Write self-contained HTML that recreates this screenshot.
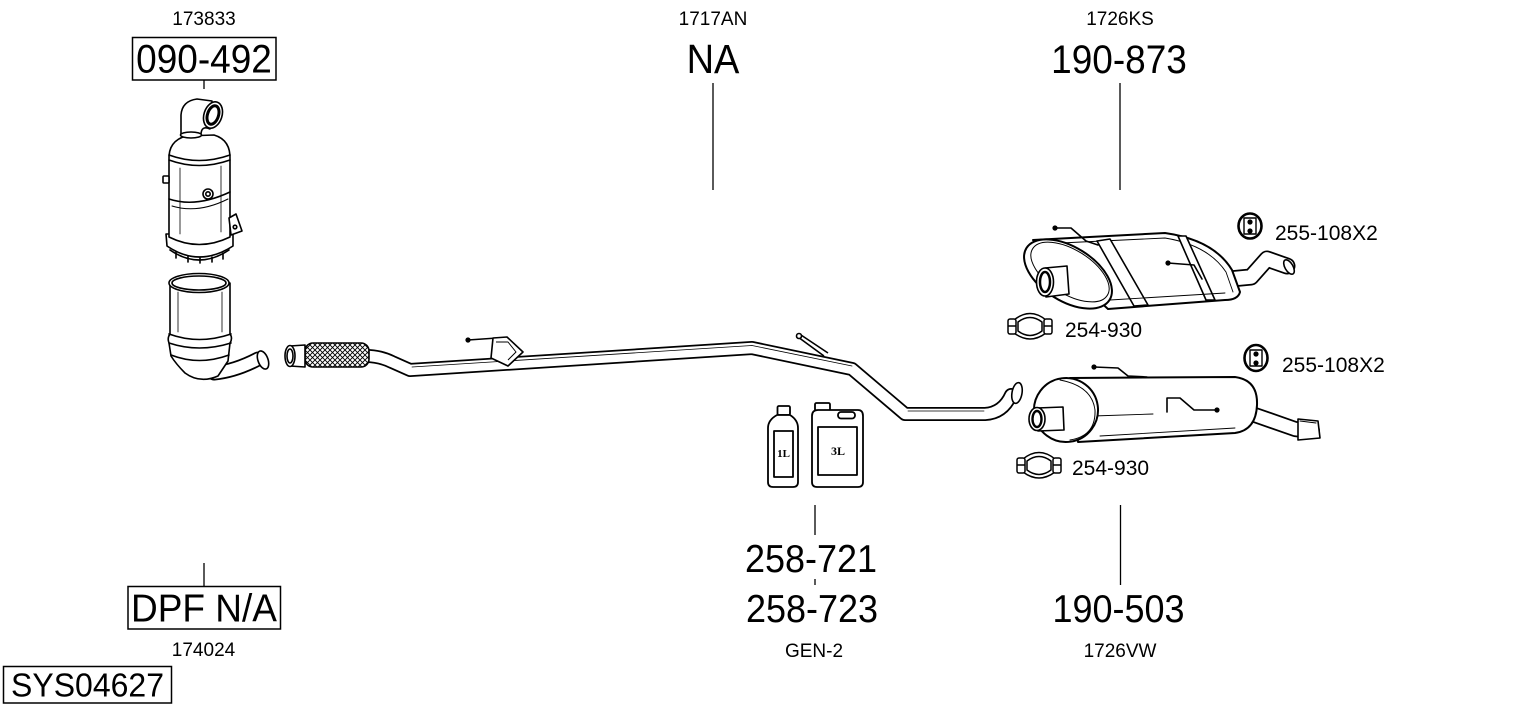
<!DOCTYPE html>
<html>
<head>
<meta charset="utf-8">
<style>
  html,body{margin:0;padding:0;background:#fff;}
  svg{display:block;}
  text{font-family:"Liberation Sans",Arial,sans-serif;fill:#000;}
  .ser{font-family:"Liberation Serif","Times New Roman",serif;font-weight:bold;}
</style>
</head>
<body>
<svg width="1530" height="711" viewBox="0 0 1530 711" xmlns="http://www.w3.org/2000/svg">
  <defs>
    <pattern id="hatch" width="5" height="5" patternUnits="userSpaceOnUse">
      <rect width="5" height="5" fill="#fff"/>
      <path d="M0,0 L5,5 M5,0 L0,5" stroke="#000" stroke-width="0.9"/>
    </pattern>
  </defs>

  <!-- ============ LABELS ============ -->
  <text x="204" y="25" font-size="19" text-anchor="middle">173833</text>
  <rect x="132.5" y="37.5" width="143.5" height="42.5" fill="none" stroke="#000" stroke-width="1.5"/>
  <text transform="translate(204,72.5) scale(1,1.07)" font-size="37" text-anchor="middle">090-492</text>
  <line x1="204" y1="80" x2="204" y2="89" stroke="#000" stroke-width="1.3"/>

  <text x="713" y="25" font-size="19" text-anchor="middle">1717AN</text>
  <text transform="translate(713,73) scale(1,1.07)" font-size="38" text-anchor="middle">NA</text>
  <line x1="713" y1="83" x2="713" y2="190" stroke="#000" stroke-width="1.3"/>

  <text x="1120" y="25" font-size="19" text-anchor="middle">1726KS</text>
  <text transform="translate(1119,73) scale(1,1.07)" font-size="37" text-anchor="middle">190-873</text>
  <line x1="1120" y1="83" x2="1120" y2="190" stroke="#000" stroke-width="1.3"/>

  <text x="1275" y="240" font-size="21">255-108X2</text>
  <text x="1282" y="372" font-size="21">255-108X2</text>
  <text x="1065" y="337" font-size="21">254-930</text>
  <text x="1072" y="475" font-size="21">254-930</text>

  <line x1="815" y1="505" x2="815" y2="535" stroke="#000" stroke-width="1.3"/>
  <text transform="translate(811,572) scale(1,1.08)" font-size="36" text-anchor="middle">258-721</text>
  <line x1="815" y1="579" x2="815" y2="585" stroke="#000" stroke-width="1.3"/>
  <text transform="translate(812,622) scale(1,1.08)" font-size="36" text-anchor="middle">258-723</text>
  <text x="814" y="657" font-size="19" text-anchor="middle">GEN-2</text>

  <line x1="1120.5" y1="505" x2="1120.5" y2="585" stroke="#000" stroke-width="1.3"/>
  <text transform="translate(1118.5,622) scale(1,1.08)" font-size="36" text-anchor="middle">190-503</text>
  <text x="1120" y="657" font-size="19" text-anchor="middle">1726VW</text>

  <line x1="204" y1="563" x2="204" y2="586" stroke="#000" stroke-width="1.3"/>
  <rect x="128" y="586.5" width="152.5" height="42.5" fill="none" stroke="#000" stroke-width="1.5"/>
  <text transform="translate(204,621.5) scale(1,1.06)" font-size="37" text-anchor="middle">DPF N/A</text>
  <text x="203.5" y="656" font-size="19" text-anchor="middle">174024</text>

  <rect x="3.5" y="666.5" width="168" height="36.5" fill="none" stroke="#000" stroke-width="1.5"/>
  <text transform="translate(87.5,696.5) scale(1,1.05)" font-size="32" text-anchor="middle">SYS04627</text>

  <!-- ============ TOP DPF ============ -->
  <g fill="#fff" stroke="#000" stroke-width="1.6" stroke-linejoin="round" stroke-linecap="round">
    <!-- bottom rim -->
    <path d="M166,234 L167,246 Q199,268 233,246 L233,234 Z"/>
    <path d="M176,252 L176,258 M188,256 L188,262 M200,258 L200,263 M212,257 L212,262 M223,253 L223,259" fill="none"/>
    <path d="M170,250 Q199,270 229,250" fill="none"/>
    <!-- body -->
    <path d="M169,160 L169,237 Q199,252 230,237 L230,160 Z"/>
    <path d="M169,199 Q196,208 230,192" fill="none"/>
    <path d="M172,206 Q198,214 228,199" fill="none" stroke-width="1"/>
    <path d="M180,168 L180,234 M221,166 L221,232" fill="none" stroke-width="0.8"/>
    <!-- dome -->
    <path d="M169,160 Q168,141 186,136 L214,135 Q231,140 230,160 Q199,171 169,160 Z"/>
    <path d="M169,155 Q199,166 230,155" fill="none"/>
    <!-- nub -->
    <rect x="163" y="176" width="6" height="7" rx="1"/>
    <!-- bolt -->
    <circle cx="208" cy="194" r="5"/>
    <circle cx="208" cy="194" r="2.2"/>
    <!-- bracket -->
    <path d="M229,218 L236,214 L242,231 L231,235 Z"/>
    <circle cx="235" cy="227" r="1.8"/>
    <!-- elbow -->
    <path d="M181,135 L181,115 Q182,101 197,99 L212,101 L210,129 Q201,125 201,135 Z"/>
    <ellipse cx="191" cy="135" rx="10.5" ry="3"/>
    <ellipse cx="213" cy="115" rx="9" ry="13.5" transform="rotate(18 213 115)"/>
    <ellipse cx="213" cy="115" rx="5.5" ry="9.5" stroke-width="3" transform="rotate(18 213 115)"/>
  </g>

  <!-- ============ LOWER DPF ============ -->
  <g fill="#fff" stroke="#000" stroke-width="1.6" stroke-linejoin="round" stroke-linecap="round">
    <path d="M214,373 Q235,371 258,359" fill="none" stroke-width="15"/>
    <path d="M214,373 Q235,371 258,359" fill="none" stroke="#fff" stroke-width="11.5"/>
    <path d="M170,283 L170,334 Q167,338 169,343 L171,356 Q176,364 185,373 Q200,384 218,376 L228,361 L230,343 Q233,338 230,334 L230,283 Z"/>
    <path d="M169,334 Q199,345 231,334 M169,343 Q199,353 231,343 M171,355 Q199,366 229,355" fill="none"/>
    <path d="M178,292 L178,332 M222,292 L222,332" fill="none" stroke-width="0.8"/>
    <ellipse cx="199" cy="283" rx="30" ry="9.5"/>
    <ellipse cx="199" cy="283" rx="27" ry="7"/>
    <ellipse cx="263" cy="360" rx="5" ry="9.5" transform="rotate(-20 263 360)"/>
  </g>

  <!-- ============ FRONT PIPE ============ -->
  <g fill="none" stroke-linejoin="round" stroke-linecap="round">
    <path d="M366,356 Q380,356 392,362 L410,370 L752,348 L852,369 L905,414 L985,414 Q1003,413 1011,395" stroke="#000" stroke-width="14"/>
    <path d="M366,356 Q380,356 392,362 L410,370 L752,348 L852,369 L905,414 L985,414 Q1003,413 1011,395" stroke="#fff" stroke-width="10.5"/>
    <path d="M412,367 L752,345.5 L852,366" stroke="#000" stroke-width="0.8"/>
    <path d="M908,411 L984,411" stroke="#000" stroke-width="0.8"/>
  </g>
  <g fill="#fff" stroke="#000" stroke-width="1.6" stroke-linejoin="round">
    <ellipse cx="1017" cy="393" rx="5" ry="10.5" transform="rotate(10 1017 393)"/>
    <!-- braid -->
    <rect x="305" y="343" width="64" height="24" rx="8" fill="url(#hatch)"/>
    <!-- front flange -->
    <path d="M290,346 L305,345 L305,367 L290,366 Z"/>
    <ellipse cx="290" cy="356" rx="5" ry="10.5"/>
    <ellipse cx="290" cy="356" rx="3" ry="7"/>
    <!-- bracket on pipe -->
    <path d="M468,340 L497,338" fill="none"/>
    <circle cx="468" cy="340" r="1.8" fill="#000"/>
    <path d="M493,338 L507,337 L523,352 L508,366 L491,358 Z"/>
    <path d="M496,342 L508,342 L516,352 L508,360" fill="none" stroke-width="1"/>
    <!-- hanger near bend -->
    <path d="M798,337 L824,356 M801,335 L828,353" fill="none"/>
    <circle cx="799" cy="336" r="2.5"/>
  </g>

  <!-- ============ BOTTLES ============ -->
  <g fill="#fff" stroke="#000" stroke-width="1.8" stroke-linejoin="round">
    <rect x="777.5" y="406" width="12.5" height="9" rx="1.5"/>
    <path d="M768,428 Q768,420 777,415 L790,415 Q798,420 798,428 L798,482 Q798,487 793,487 L773,487 Q768,487 768,482 Z"/>
    <rect x="774" y="431" width="19" height="46"/>
    <rect x="815" y="403" width="15" height="8" rx="1.5"/>
    <path d="M812,416 Q812,410 818,410 L858,410 Q863,410 863,416 L863,482 Q863,487 858,487 L817,487 Q812,487 812,482 Z"/>
    <rect x="838" y="412" width="17" height="6.5" rx="3"/>
    <rect x="818" y="427" width="39" height="48"/>
  </g>
  <text class="ser" x="783.5" y="457" font-size="11" text-anchor="middle">1L</text>
  <text class="ser" x="838" y="455" font-size="12" text-anchor="middle">3L</text>

  <!-- ============ TOP MUFFLER (190-873) ============ -->
  <g fill="#fff" stroke="#000" stroke-width="1.6" stroke-linejoin="round" stroke-linecap="round">
    <path d="M1230,279 L1251,277 L1267,259 L1287,266" fill="none" stroke-width="17"/>
    <path d="M1230,279 L1251,277 L1267,259 L1287,266" fill="none" stroke="#fff" stroke-width="13.5"/>
    <path d="M1033,240 L1165,233 Q1214,240 1232,270 L1240,292 Q1238,300 1225,300 L1108,309 Z" stroke-width="2"/>
    <path d="M1040,244 L1165,238 Q1208,245 1226,272 L1233,292" fill="none" stroke-width="0.9"/>
    <path d="M1097,241 L1110,239 L1148,305 L1134,306 Z"/>
    <path d="M1178,236 L1186,236 L1215,300 L1206,300 Z"/>
    <path d="M1110,300 L1225,293" fill="none" stroke-width="0.9"/>
    <ellipse cx="1068" cy="274" rx="49" ry="27" transform="rotate(32 1068 274)" stroke-width="2"/>
    <ellipse cx="1070" cy="272" rx="44" ry="22" transform="rotate(32 1070 272)" stroke-width="1"/>
    <path d="M1045,268 L1067,266 L1069,294 L1046,297 Z"/>
    <ellipse cx="1045" cy="282" rx="8.5" ry="14"/>
    <ellipse cx="1045" cy="282" rx="5" ry="10" stroke-width="2.5"/>
    <path d="M1055,228 L1071,228 L1086,241 L1098,245" fill="none"/>
    <circle cx="1055" cy="228" r="1.8" fill="#000"/>
    <path d="M1168,263 L1194,265 L1202,279" fill="none"/>
    <circle cx="1168" cy="263" r="1.8" fill="#000"/>
    <ellipse cx="1289" cy="267" rx="4" ry="8" transform="rotate(-30 1289 267)"/>
  </g>
  <!-- rubber hanger top -->
  <g fill="#fff" stroke="#000" stroke-linejoin="round">
    <ellipse cx="1250" cy="226" rx="11.5" ry="12.5" stroke-width="2.6"/>
    <path d="M1244,218 L1256,218 L1256,234 L1244,234 Z" stroke-width="1.4"/>
    <circle cx="1250" cy="222" r="2.6" fill="#000" stroke="none"/>
    <circle cx="1250" cy="231" r="2.6" fill="#000" stroke="none"/>
  </g>
  <!-- clamp top -->
  <g fill="#fff" stroke="#000" stroke-width="1.5" stroke-linejoin="round">
    <path d="M1014,320 Q1030,307 1046,320 L1046,333 Q1030,345 1014,333 Z"/>
    <path d="M1018,322 Q1030,313 1042,322 L1042,331 Q1030,340 1018,331 Z"/>
    <rect x="1008" y="319" width="8" height="15" rx="2"/>
    <rect x="1044" y="319" width="8" height="15" rx="2"/>
    <path d="M1008,326 L1016,326 M1044,326 L1052,326" fill="none"/>
  </g>

  <!-- ============ BOTTOM MUFFLER (190-503) ============ -->
  <g fill="#fff" stroke="#000" stroke-width="1.6" stroke-linejoin="round" stroke-linecap="round">
    <path d="M1252,414 L1295,429 L1312,431" fill="none" stroke-width="16"/>
    <path d="M1252,414 L1295,429 L1312,431" fill="none" stroke="#fff" stroke-width="12.5"/>
    <path d="M1298,419 L1318,421 L1320,438 L1298,440 Z"/>
    <path d="M1300,421 L1316,423" fill="none" stroke-width="1"/>
    <path d="M1070,378 L1235,377 Q1258,380 1257,405 Q1256,430 1235,433 L1078,442 Z" stroke-width="2"/>
    <path d="M1093,416 L1153,414" fill="none" stroke-width="0.9"/>
    <path d="M1100,436 L1235,428" fill="none" stroke-width="0.9"/>
    <ellipse cx="1066" cy="410" rx="32" ry="32" transform="rotate(-8 1066 410)" stroke-width="2"/>
    <path d="M1060,380 Q1092,386 1095,410 Q1096,436 1070,440" fill="none" stroke-width="1"/>
    <path d="M1037,408 L1063,407 L1064,430 L1038,431 Z"/>
    <ellipse cx="1037" cy="419" rx="8" ry="11.5"/>
    <ellipse cx="1037" cy="419" rx="4.5" ry="8" stroke-width="2.4"/>
    <path d="M1094,367 L1118,368 L1128,376 L1147,377" fill="none"/>
    <circle cx="1094" cy="367" r="1.8" fill="#000"/>
    <path d="M1167,412 L1167,398 L1180,398 L1194,410 L1217,410" fill="none"/>
    <circle cx="1217" cy="410" r="1.8" fill="#000"/>
  </g>
  <!-- rubber hanger bottom -->
  <g fill="#fff" stroke="#000" stroke-linejoin="round">
    <ellipse cx="1256" cy="358" rx="11.5" ry="13" stroke-width="2.6"/>
    <path d="M1250,350 L1262,350 L1262,366 L1250,366 Z" stroke-width="1.4"/>
    <circle cx="1256" cy="354" r="2.6" fill="#000" stroke="none"/>
    <circle cx="1256" cy="363" r="2.6" fill="#000" stroke="none"/>
  </g>
  <!-- clamp bottom -->
  <g fill="#fff" stroke="#000" stroke-width="1.5" stroke-linejoin="round">
    <path d="M1023,459 Q1039,446 1055,459 L1055,472 Q1039,484 1023,472 Z"/>
    <path d="M1027,461 Q1039,452 1051,461 L1051,470 Q1039,479 1027,470 Z"/>
    <rect x="1017" y="458" width="8" height="15" rx="2"/>
    <rect x="1053" y="458" width="8" height="15" rx="2"/>
    <path d="M1017,465 L1025,465 M1053,465 L1061,465" fill="none"/>
  </g>
</svg>
</body>
</html>
